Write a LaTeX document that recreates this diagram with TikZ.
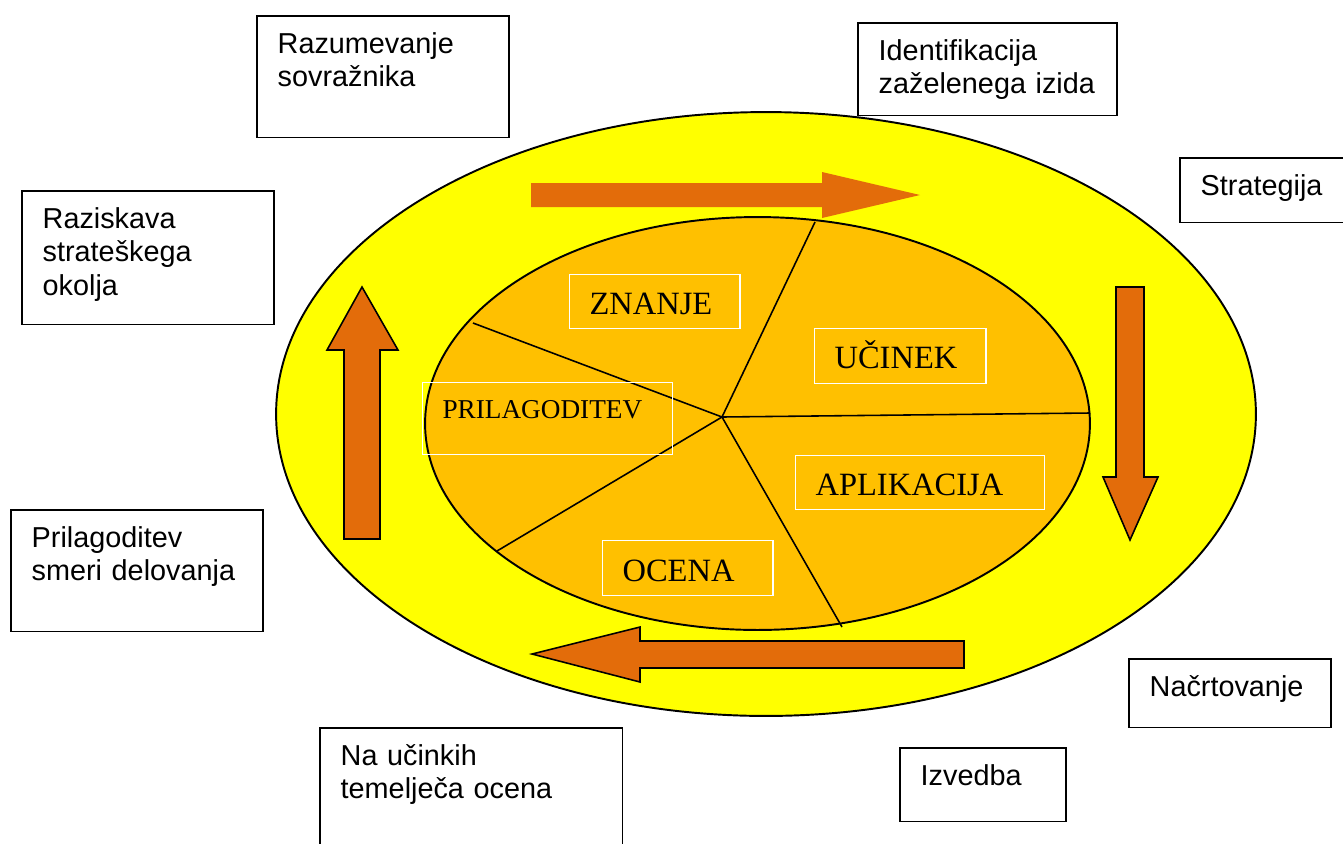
\documentclass[tikz,border=0pt]{standalone}
\usepackage{fontspec}
\setmainfont{Liberation Serif}
\setsansfont{Liberation Sans}
\usetikzlibrary{positioning}
\definecolor{cycyellow}{HTML}{FFFF00}
\definecolor{coreorange}{HTML}{FFC000}
\definecolor{flowarrow}{HTML}{E36C0A}

\begin{document}
\begin{tikzpicture}[x=0.02cm,y=-0.02cm,
  sidebox/.style={draw=black,line width=0.9pt,anchor=north west,align=left,
    font=\sffamily\fontsize{16.4}{19}\selectfont,
    inner xsep=11.9pt,inner ysep=0pt,text height=21.5pt},
  seglabel/.style={draw=white,line width=0.8pt,anchor=north west,align=left,
    font=\rmfamily\fontsize{18.5}{21}\selectfont,
    inner xsep=11.3pt,inner ysep=0pt,text height=22.7pt},
  spoke/.style={black,line width=0.9pt},
  flow/.style={fill=flowarrow,draw=black,line width=0.9pt,line join=miter}]

  \useasboundingbox (0,0) rectangle (1343,843);

  % =====================================================================
  % CYCLE: outer yellow ring and inner orange core
  % =====================================================================
  \fill[cycyellow,draw=black,line width=1.1pt] (766,414) ellipse [x radius=9.8cm, y radius=6.04cm];
  \fill[coreorange,draw=black,line width=1.1pt] (757.5,423.5) ellipse [x radius=6.65cm, y radius=4.13cm];

  % Spokes from the hub
  \coordinate (hub) at (722,417);
  \coordinate (spTop) at (815,222);
  \coordinate (spRight) at (1090,413);
  \coordinate (spBottom) at (842,627);
  \coordinate (spLowLeft) at (497,551);
  \coordinate (spUpLeft) at (473,323);
  \foreach \e in {spTop,spRight,spBottom,spLowLeft,spUpLeft} {
    \draw[spoke] (hub) -- (\e);
  }

  % Segment labels
  \node[seglabel,text width=74.3pt,text depth=7.9pt] (znanje) at (569,274) {ZNANJE};
  \node[seglabel,text width=119.6pt,text height=20.4pt,text depth=20.4pt,
        font=\rmfamily\fontsize{15.5}{18}\selectfont] (prilag) at (422,382) {PRILAGODITEV};
  \node[seglabel,text width=74.8pt,text depth=8.5pt] (ucinek) at (814,328) {UČINEK};
  \node[seglabel,text width=119.1pt,text depth=7.9pt] (aplik) at (795,455) {APLIKACIJA};
  \node[seglabel,text width=74.3pt,text height=23.2pt,text depth=8.0pt] (ocena) at (602,540) {OCENA};

  % =====================================================================
  % FLOW ARROWS (clockwise)
  % =====================================================================
  % top, pointing right (no outline)
  \fill[flowarrow] (531,183) -- (822,183) -- (822,172) -- (920,195) -- (822,218)
        -- (822,207) -- (531,207) -- cycle;
  % right, pointing down
  \draw[flow] (1116,287) -- (1144,287) -- (1144,477) -- (1158,477) -- (1130,540)
        -- (1103,477) -- (1116,477) -- cycle;
  % bottom, pointing left
  \draw[flow] (964,641) -- (640,641) -- (640,627) -- (532,654) -- (640,682)
        -- (640,668) -- (964,668) -- cycle;
  % left, pointing up
  \draw[flow] (344,539) -- (344,350) -- (327,350) -- (362,287) -- (398,350)
        -- (380,350) -- (380,539) -- cycle;

  % =====================================================================
  % SURROUNDING STEPS
  % =====================================================================
  \node[sidebox,text width=119.6pt,text depth=47.7pt] (razum) at (256,15) {Razumevanje\\sovražnika};
  \node[sidebox,text width=123.6pt,text depth=31.2pt] (ident) at (857,22) {Identifikacija\\zaželenega izida};
  \node[sidebox,text width=100pt,text depth=15.3pt] (strat) at (1179,157) {Strategija};
  \node[sidebox,text width=119.6pt,text depth=54.5pt] (razisk) at (21,190) {Raziskava\\strateškega\\okolja};
  \node[sidebox,text width=119.6pt,text depth=47.7pt] (smeri) at (10,509) {Prilagoditev\\smeri delovanja};
  \node[sidebox,text width=91.3pt,text depth=17.6pt] (nacrt) at (1128,658) {Načrtovanje};
  \node[sidebox,text width=70.9pt,text depth=20.5pt] (izved) at (899,747) {Izvedba};
  \node[sidebox,text width=148.5pt,text depth=60pt] (ocenaucin) at (319,727) {Na učinkih\\temelječa ocena};

\end{tikzpicture}
\end{document}
